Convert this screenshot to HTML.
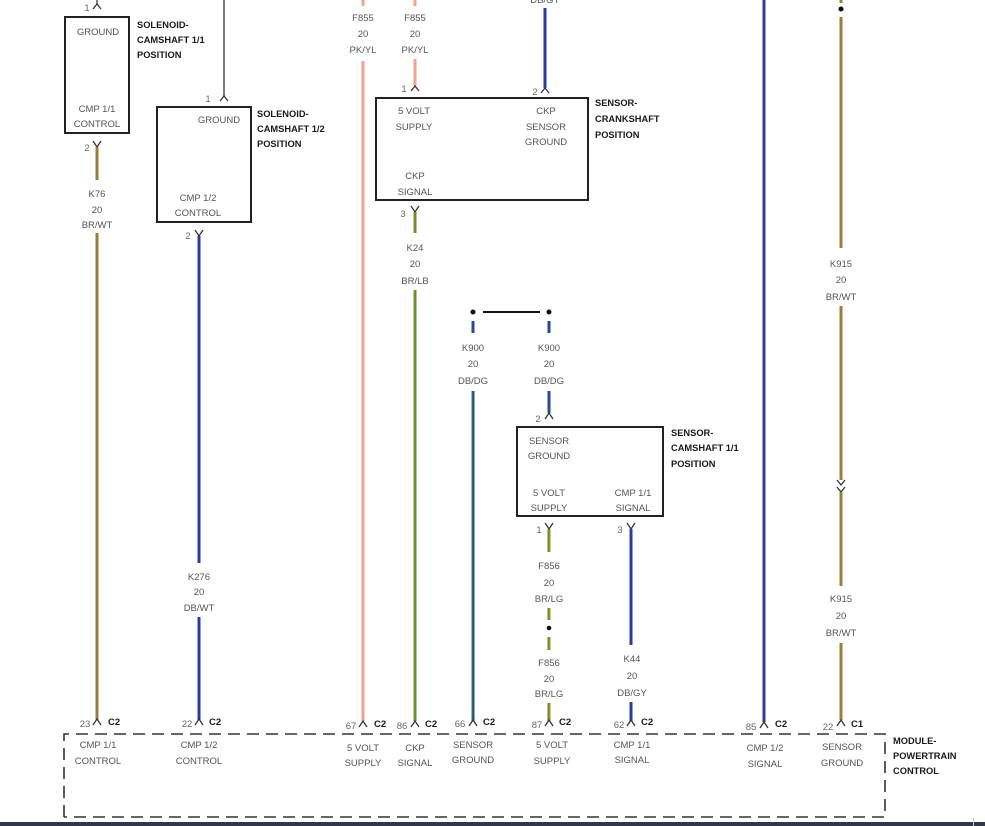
<!DOCTYPE html>
<html><head><meta charset="utf-8"><style>
html,body{margin:0;padding:0;background:#fff;}
svg{display:block;}
.t{font-family:"Liberation Sans",Arial,sans-serif;font-size:9.5px;fill:#555;text-anchor:middle;}
.n{font-family:"Liberation Sans",Arial,sans-serif;font-size:9.5px;fill:#666;text-anchor:middle;}
.b{font-family:"Liberation Sans",Arial,sans-serif;font-size:9.3px;font-weight:bold;fill:#1a1a1a;}
.c{font-family:"Liberation Sans",Arial,sans-serif;font-size:9.5px;font-weight:bold;fill:#1a1a1a;}
.ch{fill:none;stroke:#333;stroke-width:1.3;}
.box{fill:none;stroke:#222;stroke-width:2;}
.br{stroke:#9a7d3c;stroke-width:3;}
.db{stroke:#2b3d99;stroke-width:3;}
.pk{stroke:#f4a28e;stroke-width:3;}
.gy{stroke:#7a7a7a;stroke-width:2;}
.bl1{stroke:#4f9a2a;stroke-width:3;}
.bl2{stroke:#b07a3a;stroke-width:1;}
.lg1{stroke:#7f9a2a;stroke-width:3;}
.lg2{stroke:#8a6a30;stroke-width:1;}
.dd1{stroke:#2a4a90;stroke-width:3;}
.dd2{stroke:#2a8a4a;stroke-width:1;}
</style></head><body>
<svg width="985" height="826" viewBox="0 0 985 826" xmlns="http://www.w3.org/2000/svg">
<rect x="0" y="0" width="985" height="826" fill="#fff"/>

<!-- ===== Solenoid camshaft 1/1 ===== -->
<line x1="97" y1="0" x2="97" y2="4" stroke="#555" stroke-width="1.5"/>
<path class="ch" d="M93 9 L97 4 L101 9"/>
<text class="n" x="87" y="11">1</text>
<rect class="box" x="65" y="17" width="64" height="116"/>
<text class="t" x="98" y="35">GROUND</text>
<text class="t" x="97" y="112">CMP 1/1</text>
<text class="t" x="97" y="127">CONTROL</text>
<text class="b" x="137" y="28">SOLENOID-</text>
<text class="b" x="137" y="43">CAMSHAFT 1/1</text>
<text class="b" x="137" y="58">POSITION</text>
<path class="ch" d="M93 141 L97 147 L101 141"/>
<text class="n" x="87" y="151">2</text>
<line class="br" x1="97" y1="147" x2="97" y2="180"/>
<text class="t" x="97" y="197">K76</text>
<text class="t" x="97" y="213">20</text>
<text class="t" x="97" y="228">BR/WT</text>
<line class="br" x1="97" y1="233" x2="97" y2="720"/>

<!-- ===== Solenoid camshaft 1/2 ===== -->
<line class="gy" x1="224" y1="0" x2="224" y2="96"/>
<path class="ch" d="M220 101 L224 96 L228 101"/>
<text class="n" x="208" y="102">1</text>
<rect class="box" x="157" y="107" width="94" height="115"/>
<text class="t" x="219" y="123">GROUND</text>
<text class="t" x="198" y="201">CMP 1/2</text>
<text class="t" x="198" y="216">CONTROL</text>
<text class="b" x="257" y="117">SOLENOID-</text>
<text class="b" x="257" y="132">CAMSHAFT 1/2</text>
<text class="b" x="257" y="147">POSITION</text>
<path class="ch" d="M195 230 L199 236 L203 230"/>
<text class="n" x="188" y="239">2</text>
<line class="db" x1="199" y1="236" x2="199" y2="563"/>
<text class="t" x="199" y="580">K276</text>
<text class="t" x="199" y="595">20</text>
<text class="t" x="199" y="611">DB/WT</text>
<line class="db" x1="199" y1="617" x2="199" y2="720"/>

<!-- ===== F855 left ===== -->
<line class="pk" x1="363" y1="0" x2="363" y2="6"/>
<text class="t" x="363" y="21">F855</text>
<text class="t" x="363" y="37">20</text>
<text class="t" x="363" y="53">PK/YL</text>
<line class="pk" x1="363" y1="61" x2="363" y2="721"/>

<!-- ===== F855 right ===== -->
<line class="pk" x1="415" y1="0" x2="415" y2="6"/>
<text class="t" x="415" y="21">F855</text>
<text class="t" x="415" y="37">20</text>
<text class="t" x="415" y="53">PK/YL</text>
<line class="pk" x1="415" y1="59" x2="415" y2="86"/>
<path class="ch" d="M411 91 L415 86 L419 91"/>
<text class="n" x="404" y="92">1</text>

<!-- DB/GY to CKP -->
<text class="t" x="545" y="3">DB/GY</text>
<line class="db" x1="545" y1="8" x2="545" y2="88"/>
<path class="ch" d="M541 93 L545 88 L549 93"/>
<text class="n" x="535" y="95">2</text>

<!-- CKP sensor box -->
<rect class="box" x="376" y="98" width="212" height="102"/>
<text class="t" x="414" y="114">5 VOLT</text>
<text class="t" x="414" y="130">SUPPLY</text>
<text class="t" x="546" y="114">CKP</text>
<text class="t" x="546" y="130">SENSOR</text>
<text class="t" x="546" y="145">GROUND</text>
<text class="t" x="415" y="179">CKP</text>
<text class="t" x="415" y="195">SIGNAL</text>
<text class="b" x="595" y="106">SENSOR-</text>
<text class="b" x="595" y="122">CRANKSHAFT</text>
<text class="b" x="595" y="138">POSITION</text>
<path class="ch" d="M411 206 L415 212 L419 206"/>
<text class="n" x="403" y="217">3</text>
<line class="bl1" x1="415" y1="212" x2="415" y2="233"/>
<line class="bl2" x1="414" y1="212" x2="414" y2="233"/>
<text class="t" x="415" y="251">K24</text>
<text class="t" x="415" y="267">20</text>
<text class="t" x="415" y="284">BR/LB</text>
<line class="bl1" x1="415" y1="290" x2="415" y2="721"/>
<line class="bl2" x1="414" y1="290" x2="414" y2="721"/>

<!-- ===== K900 splice ===== -->
<circle cx="473" cy="312" r="2.5" fill="#111"/>
<circle cx="549" cy="312" r="2.5" fill="#111"/>
<line x1="483" y1="312" x2="540" y2="312" stroke="#111" stroke-width="2"/>
<line class="dd1" x1="473" y1="321" x2="473" y2="333"/>
<line class="dd1" x1="549" y1="321" x2="549" y2="333"/>
<text class="t" x="473" y="351">K900</text>
<text class="t" x="473" y="367">20</text>
<text class="t" x="473" y="384">DB/DG</text>
<text class="t" x="549" y="351">K900</text>
<text class="t" x="549" y="367">20</text>
<text class="t" x="549" y="384">DB/DG</text>
<line class="dd1" x1="473" y1="391" x2="473" y2="721"/>
<line class="dd2" x1="472" y1="391" x2="472" y2="721"/>
<line class="dd1" x1="549" y1="391" x2="549" y2="413"/>
<path class="ch" d="M545 419 L549 413 L553 419"/>
<text class="n" x="538" y="422">2</text>

<!-- CMP 1/1 sensor box -->
<rect class="box" x="517" y="427" width="146" height="89"/>
<text class="t" x="549" y="444">SENSOR</text>
<text class="t" x="549" y="459">GROUND</text>
<text class="t" x="549" y="496">5 VOLT</text>
<text class="t" x="549" y="511">SUPPLY</text>
<text class="t" x="633" y="496">CMP 1/1</text>
<text class="t" x="633" y="511">SIGNAL</text>
<text class="b" x="671" y="436">SENSOR-</text>
<text class="b" x="671" y="451">CAMSHAFT 1/1</text>
<text class="b" x="671" y="467">POSITION</text>

<path class="ch" d="M545 523 L549 529 L553 523"/>
<text class="n" x="539" y="533">1</text>
<line class="lg1" x1="549" y1="529" x2="549" y2="552"/>
<line class="lg2" x1="548" y1="529" x2="548" y2="552"/>
<text class="t" x="549" y="569">F856</text>
<text class="t" x="549" y="586">20</text>
<text class="t" x="549" y="602">BR/LG</text>
<line class="lg1" x1="549" y1="608" x2="549" y2="620"/>
<line class="lg2" x1="548" y1="608" x2="548" y2="620"/>
<circle cx="549" cy="628" r="2.3" fill="#111"/>
<line class="lg1" x1="549" y1="637" x2="549" y2="650"/>
<line class="lg2" x1="548" y1="637" x2="548" y2="650"/>
<text class="t" x="549" y="666">F856</text>
<text class="t" x="549" y="682">20</text>
<text class="t" x="549" y="697">BR/LG</text>
<line class="lg1" x1="549" y1="703" x2="549" y2="721"/>
<line class="lg2" x1="548" y1="703" x2="548" y2="721"/>

<path class="ch" d="M627 523 L631 529 L635 523"/>
<text class="n" x="620" y="533">3</text>
<line class="db" x1="631" y1="529" x2="631" y2="645"/>
<text class="t" x="632" y="662">K44</text>
<text class="t" x="632" y="679">20</text>
<text class="t" x="632" y="696">DB/GY</text>
<line class="db" x1="631" y1="702" x2="631" y2="721"/>

<!-- ===== CMP 1/2 signal blue ===== -->
<line class="db" x1="764" y1="0" x2="764" y2="722"/>

<!-- ===== K915 ===== -->
<line class="br" x1="841" y1="0" x2="841" y2="3"/>
<circle cx="841" cy="9" r="2.5" fill="#111"/>
<line class="br" x1="841" y1="17" x2="841" y2="248"/>
<text class="t" x="841" y="267">K915</text>
<text class="t" x="841" y="283">20</text>
<text class="t" x="841" y="300">BR/WT</text>
<line class="br" x1="841" y1="306" x2="841" y2="480"/>
<path class="ch" d="M837 480 L841 485 L845 480"/>
<path class="ch" d="M837 487 L841 492 L845 487"/>
<line class="br" x1="841" y1="492" x2="841" y2="586"/>
<text class="t" x="841" y="602">K915</text>
<text class="t" x="841" y="619">20</text>
<text class="t" x="841" y="636">BR/WT</text>
<line class="br" x1="841" y1="643" x2="841" y2="720"/>

<!-- ===== Bottom connectors ===== -->
<path class="ch" d="M93 725 L97 719 L101 725"/>
<text class="n" x="85" y="727">23</text>
<text class="c" x="108" y="725">C2</text>

<path class="ch" d="M195 725 L199 719 L203 725"/>
<text class="n" x="187" y="727">22</text>
<text class="c" x="209" y="725">C2</text>

<path class="ch" d="M359 727 L363 721 L367 727"/>
<text class="n" x="351" y="729">67</text>
<text class="c" x="374" y="727">C2</text>

<path class="ch" d="M411 727 L415 721 L419 727"/>
<text class="n" x="402" y="729">86</text>
<text class="c" x="425" y="727">C2</text>

<path class="ch" d="M469 726 L473 720 L477 726"/>
<text class="n" x="460" y="727">66</text>
<text class="c" x="483" y="725">C2</text>

<path class="ch" d="M545 726 L549 720 L553 726"/>
<text class="n" x="537" y="728">87</text>
<text class="c" x="559" y="725">C2</text>

<path class="ch" d="M627 726 L631 720 L635 726"/>
<text class="n" x="619" y="728">62</text>
<text class="c" x="641" y="725">C2</text>

<path class="ch" d="M760 728 L764 722 L768 728"/>
<text class="n" x="751" y="730">85</text>
<text class="c" x="775" y="727">C2</text>

<path class="ch" d="M837 726 L841 720 L845 726"/>
<text class="n" x="828" y="730">22</text>
<text class="c" x="851" y="727">C1</text>

<!-- ===== Module dashed box ===== -->
<path d="M64 817 L64 734 L885 734 L885 817 L64 817" fill="none" stroke="#333" stroke-width="1.6" stroke-dasharray="12 7"/>

<text class="t" x="98" y="748">CMP 1/1</text>
<text class="t" x="98" y="764">CONTROL</text>
<text class="t" x="199" y="748">CMP 1/2</text>
<text class="t" x="199" y="764">CONTROL</text>
<text class="t" x="363" y="751">5 VOLT</text>
<text class="t" x="363" y="766">SUPPLY</text>
<text class="t" x="415" y="751">CKP</text>
<text class="t" x="415" y="766">SIGNAL</text>
<text class="t" x="473" y="748">SENSOR</text>
<text class="t" x="473" y="763">GROUND</text>
<text class="t" x="552" y="748">5 VOLT</text>
<text class="t" x="552" y="764">SUPPLY</text>
<text class="t" x="632" y="748">CMP 1/1</text>
<text class="t" x="632" y="763">SIGNAL</text>
<text class="t" x="765" y="751">CMP 1/2</text>
<text class="t" x="765" y="767">SIGNAL</text>
<text class="t" x="842" y="750">SENSOR</text>
<text class="t" x="842" y="766">GROUND</text>
<text class="b" x="893" y="744">MODULE-</text>
<text class="b" x="893" y="759">POWERTRAIN</text>
<text class="b" x="893" y="774">CONTROL</text>

<!-- bottom dark bar -->
<rect x="0" y="822" width="985" height="4" fill="#2f3847"/>
<line x1="973.5" y1="818" x2="973.5" y2="826" stroke="#c8ccd2" stroke-width="1"/>
</svg>
</body></html>
